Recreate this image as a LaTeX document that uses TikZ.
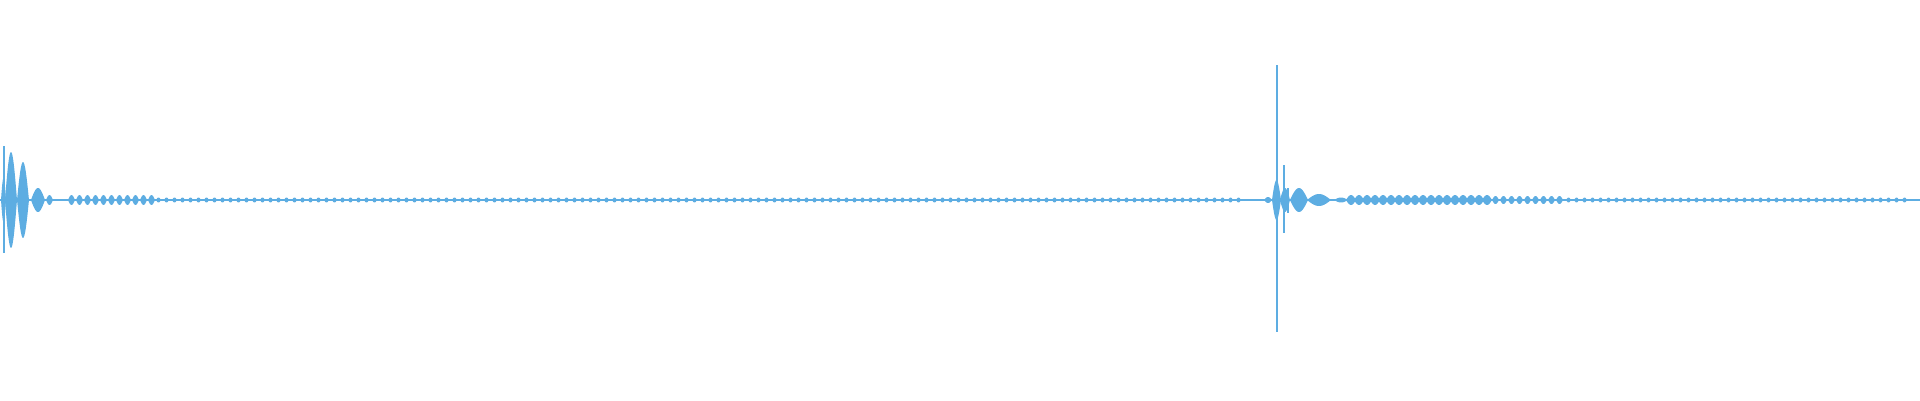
\documentclass[tikz,border=0pt]{standalone}
\usepackage{tikz}
\definecolor{wave}{RGB}{93,173,226}
\newcommand{\wlobe}[3]{% start, end, amplitude
  \fill[wave] plot[domain=0:1,samples=20] ({(#1)+((#2)-(#1))*\x},{200+(#3)*sin(180*\x)})
    -- plot[domain=1:0,samples=20] ({(#1)+((#2)-(#1))*\x},{200-(#3)*sin(180*\x)}) -- cycle;}
\begin{document}
\begin{tikzpicture}[x=1pt,y=-1pt,
    spike/.style={draw=wave, line width=1.6pt},
    base/.style={draw=wave, line width=1.5pt}]
\useasboundingbox (0,0) rectangle (1920,400);
\coordinate (w0) at (0,200);
\coordinate (w1) at (1920,200);
\draw[base] (w0) -- (w1);
% first burst
\wlobe{1}{6}{22}
\wlobe{5}{17}{48}
\wlobe{17}{29}{38}
\wlobe{31}{45}{12}
\wlobe{46}{53}{5}
\coordinate (s0) at (4,146);
\coordinate (s1) at (4,253);
\draw[spike] (s0) -- (s1);
\foreach \i in {0,...,10} {\wlobe{68+8*\i}{75+8*\i}{5}}
\foreach \i in {0,...,135} {\wlobe{156+8*\i}{161+8*\i}{2.5}}
% second burst
\wlobe{1264}{1272}{3}
\wlobe{1272}{1281}{20}
\wlobe{1280}{1290}{12}
\wlobe{1290}{1308}{12}
\wlobe{1307}{1331}{6}
\wlobe{1334}{1348}{2.5}
\foreach \i in {0,...,17} {\wlobe{1346+8*\i}{1356+8*\i}{5}}
\foreach \i in {0,...,8} {\wlobe{1492+8*\i}{1499+8*\i}{4}}
\foreach \i in {0,...,42} {\wlobe{1566+8*\i}{1571+8*\i}{2.5}}
\coordinate (s2) at (1277,65);
\coordinate (s3) at (1277,332);
\draw[spike] (s2) -- (s3);
\coordinate (s4) at (1284,165);
\coordinate (s5) at (1284,233);
\draw[spike] (s4) -- (s5);
\coordinate (s6) at (1288,188);
\coordinate (s7) at (1288,213);
\draw[spike] (s6) -- (s7);
\end{tikzpicture}
\end{document}
